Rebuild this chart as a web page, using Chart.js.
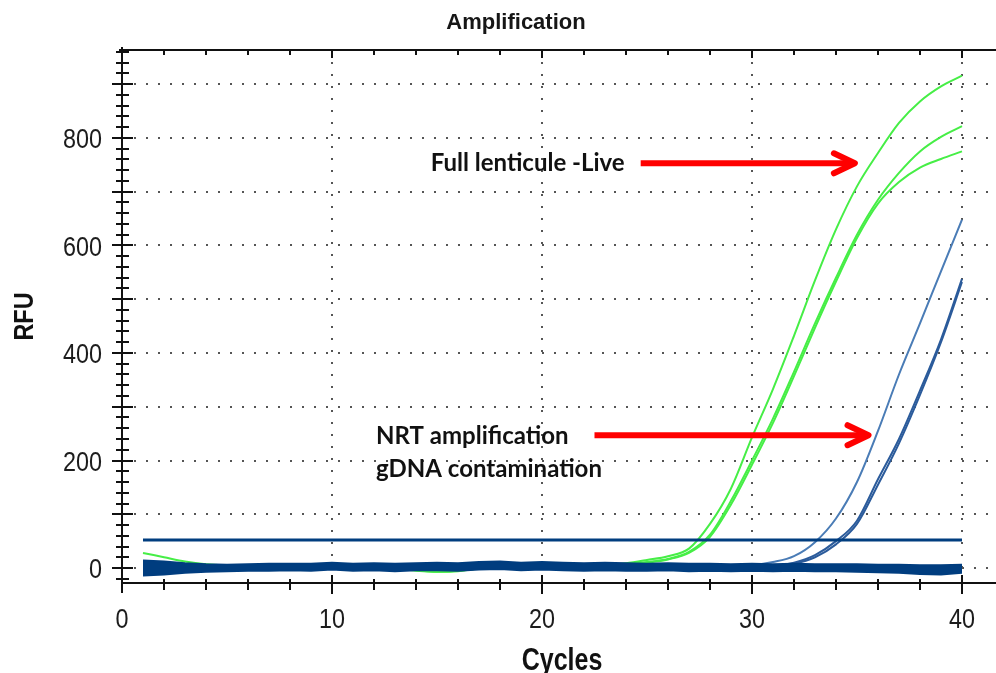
<!DOCTYPE html>
<html>
<head>
<meta charset="utf-8">
<title>Amplification</title>
<script src="https://cdn.jsdelivr.net/npm/chart.js@4.4.1/dist/chart.umd.min.js"></script>
<style>
  html, body { margin: 0; padding: 0; background: #ffffff; }
  canvas { display: block; }
</style>
</head>
<body>
<canvas id="amp" width="996" height="673"></canvas>
<script>
// ---- qPCR run: cycle number and RFU readings ----
const cycles = [1, 2, 3, 4, 5, 6, 7, 8, 9, 10, 11, 12, 13, 14, 15, 16, 17, 18, 19, 20,
                21, 22, 23, 24, 25, 26, 27, 28, 29, 30, 31, 32, 33, 34, 35, 36, 37, 38, 39, 40];

// Full lenticule (live) wells
const liveA = [28, 20, 12, 7, 5, 4, 4, 3, 3, 3, 3, 2, 1, -4, -7, -5, 0, 2, 3, 3,
               4, 5, 6, 9, 15, 22, 36, 82, 148, 243, 333, 432, 535, 630, 710, 772, 828, 868, 896, 916];
const liveB = [9, 8, 7, 6, 5, 4, 4, 3, 3, 2, 2, 1, 0, -5, -7, -6, -1, 1, 2, 3,
               3, 4, 5, 7, 11, 17, 30, 62, 125, 200, 278, 365, 455, 540, 620, 685, 735, 775, 802, 822];
const liveC = [8, 7, 6, 5, 5, 4, 3, 3, 2, 2, 1, 1, 0, -3, -6, -5, -1, 1, 2, 2,
               3, 4, 4, 6, 10, 16, 28, 58, 118, 192, 270, 357, 447, 533, 614, 678, 718, 745, 761, 775];

// No-RT wells (gDNA contamination)
const nrtA = [3, 2, 2, 1, 1, 1, 2, 2, 2, 3, 3, 3, 2, 2, 2, 3, 3, 4, 3, 3,
              3, 2, 2, 2, 2, 2, 3, 3, 3, 5, 11, 22, 48, 92, 160, 255, 360, 455, 552, 648];
const nrtB = [2, 2, 1, 1, 1, 1, 2, 2, 2, 2, 2, 3, 2, 2, 2, 2, 3, 3, 3, 3,
              2, 2, 2, 2, 2, 2, 2, 2, 3, 3, 4, 10, 24, 50, 88, 165, 240, 330, 425, 538];
const nrtC = [1, 1, 1, 0, 1, 1, 1, 2, 2, 2, 2, 2, 2, 2, 2, 2, 2, 3, 3, 2,
              2, 2, 2, 1, 2, 2, 2, 2, 2, 2, 3, 8, 20, 44, 82, 155, 232, 322, 420, 532];

// Envelope of the flat (negative) wells
const flatTop = [14, 12, 9, 7, 6, 7, 8, 8, 8, 10, 8, 9, 8, 9, 10, 9, 11, 12, 10, 11,
                 10, 9, 10, 9, 8, 9, 8, 8, 7, 8, 7, 8, 7, 7, 7, 6, 6, 5, 5, 6];
const flatBottom = [-14, -12, -9, -7, -6, -5, -5, -4, -5, -3, -5, -4, -6, -4, -4, -5, -3, -2, -4, -3,
                    -4, -5, -4, -5, -5, -4, -6, -5, -6, -5, -6, -5, -6, -6, -7, -8, -9, -11, -12, -9];

// Threshold line
const thresholdCycles = [1, 40];
const thresholdRFU = 52;

// Axis ticks and labels
const cycleTicks = [0, 10, 20, 30, 40];
const rfuGridTicks = [0, 100, 200, 300, 400, 500, 600, 700, 800, 900];
const rfuTickLabels = [0, 200, 400, 600, 800];

// ---- styling ----
const GREEN = '#46ee46';
const NRT_LIGHT = '#4a7cb6';
const NRT_DARK = '#2b5b9b';
const NAVY = '#003d7f';
const GRID = '#555555';
const AXIS = '#111111';
const LABEL_FAMILY = "'Liberation Sans', Arial, sans-serif";
const NARROW = 0.82;   // horizontal squeeze for the axis lettering

const pts = vals => cycles.map((c, i) => ({ x: c, y: vals[i] }));

const curve = (vals, color, order) => ({
  data: pts(vals), borderColor: color, borderWidth: 2, pointRadius: 0,
  fill: false, cubicInterpolationMode: 'monotone', order
});

// Callout texts and arrows, placed in (cycle, RFU) coordinates
const callouts = [
  { lines: ['Full lenticule -Live'], x: 14.7, y: 738, arrow: { from: 24.7, to: 34.9, at: 753 } },
  { lines: ['NRT amplification', 'gDNA contamination'], x: 12.1, y: 231, arrow: { from: 22.5, to: 35.55, at: 247 } }
];

// draws condensed text: anchor (x, y) on the alphabetic baseline
function narrowText(ctx, text, x, y, size, bold, align, rotate) {
  ctx.save();
  ctx.translate(x, y);
  if (rotate) ctx.rotate(rotate);
  ctx.scale(NARROW, 1);
  ctx.font = (bold ? 'bold ' : '') + size + 'px ' + LABEL_FAMILY;
  ctx.textAlign = align;
  ctx.textBaseline = 'alphabetic';
  ctx.fillText(text, 0, 0);
  ctx.restore();
}

const framePlugin = {
  id: 'frame',
  afterDatasetsDraw(chart) {
    const { ctx, chartArea: a, scales: { x, y } } = chart;
    ctx.save();
    ctx.strokeStyle = AXIS;
    ctx.lineWidth = 2;
    ctx.lineCap = 'butt';
    ctx.beginPath();
    ctx.moveTo(a.left, a.top - 3); ctx.lineTo(a.left, a.bottom + 10);
    ctx.moveTo(a.left - 3, a.top); ctx.lineTo(a.right, a.top);
    ctx.moveTo(a.left, a.bottom); ctx.lineTo(a.right, a.bottom);
    ctx.stroke();

    // cycle ticks: minor every 2, major every 10 (bottom and top edges)
    ctx.beginPath();
    for (let v = 2; v <= x.max; v += 2) {
      const px = Math.round(x.getPixelForValue(v));
      const major = v % 10 === 0;
      ctx.moveTo(px, a.bottom - (major ? 8 : 4));
      ctx.lineTo(px, a.bottom + (major ? 11 : 7));
      ctx.moveTo(px, a.top);
      ctx.lineTo(px, a.top + (major ? 8 : 5));
    }
    // RFU ticks: minor every 20, major every 100
    for (let v = -20; v <= y.max; v += 20) {
      const py = Math.round(y.getPixelForValue(v));
      const major = v % 100 === 0;
      ctx.moveTo(a.left - (major ? 10 : 6), py);
      ctx.lineTo(a.left + (major ? 11 : 7), py);
    }
    ctx.stroke();
    ctx.restore();
  },
  afterDraw(chart) {
    const { ctx, chartArea: a, scales: { x, y } } = chart;
    ctx.save();

    // tick labels
    ctx.fillStyle = '#1c1c1c';
    cycleTicks.forEach(v => narrowText(ctx, String(v), x.getPixelForValue(v), a.bottom + 45, 28.5, false, 'center'));
    rfuTickLabels.forEach(v => narrowText(ctx, String(v), a.left - 20, y.getPixelForValue(v) + 10.3, 28.5, false, 'right'));

    // axis titles
    ctx.fillStyle = '#111111';
    narrowText(ctx, 'Cycles', (a.left + a.right) / 2 + 3, 670, 30.5, true, 'center');
    narrowText(ctx, 'RFU', 33, (a.top + a.bottom) / 2, 28.5, true, 'center', -Math.PI / 2);

    // chart heading
    ctx.fillStyle = '#161616';
    ctx.font = "bold 22px 'Liberation Sans', Arial, sans-serif";
    ctx.textAlign = 'center';
    ctx.textBaseline = 'alphabetic';
    ctx.fillText('Amplification', 516, 29);

    // callouts
    ctx.font = "bold 24px Lato, 'Open Sans', sans-serif";
    ctx.textAlign = 'left';
    ctx.fillStyle = '#111111';
    callouts.forEach(c => {
      const tx = x.getPixelForValue(c.x);
      const ty = y.getPixelForValue(c.y);
      c.lines.forEach((line, i) => ctx.fillText(line, tx, ty + i * 33));

      const x1 = x.getPixelForValue(c.arrow.from);
      const x2 = x.getPixelForValue(c.arrow.to);
      const ay = y.getPixelForValue(c.arrow.at);
      ctx.strokeStyle = '#ff0000';
      ctx.lineWidth = 6;
      ctx.lineCap = 'butt';
      ctx.beginPath();
      ctx.moveTo(x1, ay); ctx.lineTo(x2 - 3, ay);
      ctx.stroke();
      ctx.lineCap = 'round';
      ctx.lineJoin = 'round';
      ctx.beginPath();
      ctx.moveTo(x2 - 21, ay - 10); ctx.lineTo(x2, ay); ctx.lineTo(x2 - 21, ay + 10);
      ctx.stroke();
    });
    ctx.restore();
  }
};

new Chart(document.getElementById('amp'), {
  type: 'line',
  data: {
    datasets: [
      { data: thresholdCycles.map(c => ({ x: c, y: thresholdRFU })), borderColor: NAVY, borderWidth: 3,
        pointRadius: 0, fill: false, order: 0 },
      { data: pts(flatTop), borderColor: NAVY, borderWidth: 2, pointRadius: 0, fill: false, order: 1 },
      { data: pts(flatBottom), borderColor: NAVY, borderWidth: 2, pointRadius: 0,
        fill: '-1', backgroundColor: NAVY, order: 1 },
      curve(nrtA, NRT_LIGHT, 2),
      curve(nrtB, NRT_DARK, 2),
      curve(nrtC, NRT_DARK, 2),
      curve(liveA, GREEN, 3),
      curve(liveB, GREEN, 3),
      curve(liveC, GREEN, 3)
    ]
  },
  options: {
    responsive: false,
    animation: false,
    devicePixelRatio: 1,
    layout: { padding: { top: 50, right: 0, bottom: 0, left: 0 } },
    plugins: { legend: { display: false }, tooltip: { enabled: false }, title: { display: false } },
    scales: {
      x: {
        type: 'linear', min: 0, max: 41.62,
        afterBuildTicks: s => { s.ticks = cycleTicks.map(v => ({ value: v })); },
        ticks: { display: false },
        grid: { drawTicks: false, lineWidth: 2,
                color: c => (c.tick && c.tick.value !== 0) ? GRID : 'rgba(0,0,0,0)' },
        border: { display: false, dash: [2, 10] },
        afterFit: s => { s.height = 90; }
      },
      y: {
        type: 'linear', min: -27.9, max: 963.7,
        afterBuildTicks: s => { s.ticks = rfuGridTicks.map(v => ({ value: v })); },
        ticks: { display: false },
        grid: { drawTicks: false, lineWidth: 2, color: GRID },
        border: { display: false, dash: [2, 10] },
        afterFit: s => { s.width = 122; }
      }
    }
  },
  plugins: [framePlugin]
});
</script>
</body>
</html>
